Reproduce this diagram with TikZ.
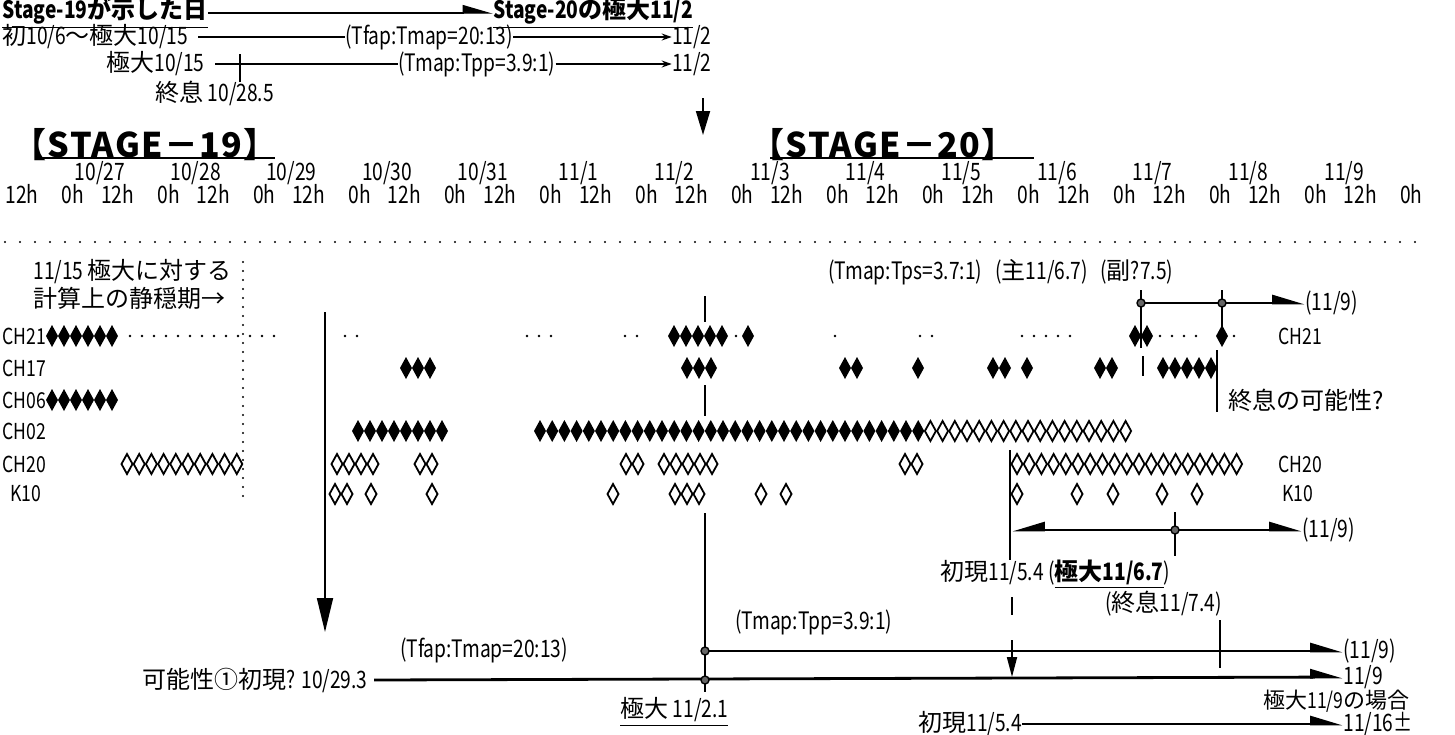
\documentclass[tikz,border=0pt]{standalone}
\usepackage{fontspec}
\setmainfont[FakeStretch=0.8]{Noto Sans CJK JP}
\newfontfamily\cjkfont{Noto Sans CJK JP}
\newfontfamily\stagefont[LetterSpace=4]{Noto Sans CJK JP}
\newcommand\jpn[1]{{\cjkfont #1}}
\usetikzlibrary{arrows.meta}

\begin{document}
\begin{tikzpicture}[x=0.5pt, y=-0.5pt,
    every node/.style={inner sep=0pt, font=\fontsize{12}{14}\selectfont},
    lab/.style={font=\fontsize{11}{13}\selectfont},
    stage/.style={anchor=west, font=\fontsize{17}{19}\selectfont\stagefont\bfseries},
    thinline/.style={line width=0.7pt},
    boldline/.style={line width=1.4pt},
    vline/.style={line width=0.9pt},
    harp/.style={-{Triangle[harpoon, length=14pt, width=8pt]}},
    headarrow/.style={-{Stealth[length=5pt, width=3.5pt]}},
    dotline/.style={line width=1.2pt, line cap=round, dash pattern=on 0pt off 7.5pt},
    dotrow/.style={line width=1.4pt, line cap=round, dash pattern=on 0pt off 6pt},
    knot/.style={fill=black!60, draw=black, line width=0.7pt},
    fulld/.pic={\fill (0,-11) -- (6,0) -- (0,11) -- (-6,0) -- cycle;},
    opend/.pic={\filldraw[fill=white, line width=0.9pt] (0,-10) -- (5.5,0) -- (0,10) -- (-5.5,0) -- cycle;},
    blip/.pic={\fill (0,0) circle[radius=0.7pt];}
  ]
  \useasboundingbox (0,0) rectangle (1455,734);

  % what Stage-19 gave
  \node[anchor=west] (s19) at (2,13) {\bfseries\underline{Stage-19\jpn{が示した日}}};
  \node[anchor=west] (s20) at (493,13) {\bfseries\underline{Stage-20\jpn{の極大}11/2}};
  \draw[thinline, harp] (s19.east) -- (s20.west);

  \node[anchor=west] (fa) at (2,37) {\jpn{初}10/6\jpn{〜極大}10/15};
  \node[anchor=west] (fr1) at (345,37) {(Tfap:Tmap=20:13)};
  \node[anchor=east] (fe1) at (712,37) {11/2};
  \draw[thinline] ([xshift=5pt]fa.east) -- (fr1.west);
  \draw[thinline, headarrow] (fr1.east) -- (fe1.west);

  \node[anchor=east] (ma) at (205,64) {\jpn{極大}10/15};
  \node[anchor=west] (mr1) at (398,64) {(Tmap:Tpp=3.9:1)};
  \node[anchor=east] (me1) at (712,64) {11/2};
  \draw[thinline] ([xshift=5pt]ma.east) -- (mr1.west);
  \draw[thinline, headarrow] (mr1.east) -- (me1.west);
  \coordinate (endt) at (240,54);
  \coordinate (endb) at (240,82);
  \draw[thinline] (endt) -- (endb);
  \node[anchor=west] (endlbl) at (155,93) {\jpn{終息} 10/28.5};

  % drop to 11/2
  \coordinate (d1a) at (703,98);
  \coordinate (d1b) at (703,135);
  \draw[vline, -{Triangle[length=12pt, width=7pt]}] (d1a) -- (d1b);

  % stage titles
  \node[stage] (st19) at (12,145) {【STAGE－19】};
  \draw[thinline] (35,158) -- (275,158);
  \node[stage] (st20) at (750,145) {【STAGE－20】};
  \draw[thinline] (770,158) -- (1034,158);

  % time axis
  \foreach \d [count=\i from 0] in {{10/27},{10/28},{10/29},{10/30},{10/31},{11/1},{11/2},{11/3},{11/4},{11/5},{11/6},{11/7},{11/8},{11/9}}
    \node (date\i) at ({100+95.7*\i},173) {\d};
  \foreach \k in {0,...,14} {
    \node (hA\k) at ({22+95.6*\k},194) {12h};
    \node (hB\k) at ({73+95.6*\k},194) {0h};
  }
  \coordinate (rl) at (5,242);
  \coordinate (rr) at (1420,242);
  \draw[dotline] (rl) -- (rr);

  % quiet period note
  \node[anchor=west] (calm1) at (33,272) {11/15 \jpn{極大に対する}};
  \node[anchor=west] (calm2) at (33,298) {\jpn{計算上の静穏期→}};
  \draw[line width=1.1pt, line cap=round, dash pattern=on 0pt off 4.5pt] (243,262) -- (243,505);

  % row labels
  \node[lab, anchor=west] (lch21) at (2,336) {CH21};
  \node[lab, anchor=west] (lch17) at (2,368) {CH17};
  \node[lab, anchor=west] (lch06) at (2,400) {CH06};
  \node[lab, anchor=west] (lch02) at (2,431) {CH02};
  \node[lab, anchor=west] (lch20) at (2,464) {CH20};
  \node[lab, anchor=west] (lk10) at (10,494) {K10};
  \node[lab, anchor=west] (rch21) at (1278,336) {CH21};
  \node[lab, anchor=west] (rch20) at (1278,464) {CH20};
  \node[lab, anchor=west] (rk10) at (1282,494) {K10};

  % CH21
  \foreach \x in {52,64,...,112} \pic at (\x,336) {fulld};
  \draw[dotrow] (130,336) -- (282,336);
  \draw[dotrow] (345,336) -- (369,336);
  \draw[dotrow] (527,336) -- (563,336);
  \draw[dotrow] (625,336) -- (637,336);
  \foreach \x in {674,686,698,710,722,748} \pic at (\x,336) {fulld};
  \pic at (736,336) {blip};
  \pic at (835,336) {blip};
  \draw[dotrow] (920,336) -- (932,336);
  \draw[dotrow] (1022,336) -- (1070,336);
  \foreach \x in {1135,1147,1222} \pic at (\x,336) {fulld};
  \draw[dotrow] (1160,336) -- (1208,336);
  \pic at (1234,336) {blip};

  % CH17
  \foreach \x in {406,418,430,687,699,711,845,857,918,993,1005,1027,1100,1112,1163,1175,1187,1199,1211}
    \pic at (\x,368) {fulld};
  \draw[vline] (1143,356) -- (1143,376);
  \draw[vline] (1217,350) -- (1217,412);
  \node[anchor=west] (endq) at (1228,400) {\jpn{終息の可能性?}};

  % CH06
  \foreach \x in {52,64,...,112} \pic at (\x,400) {fulld};

  % CH02
  \foreach \x in {358,370,...,442} \pic at (\x,431) {fulld};
  \foreach \i in {0,...,31} \pic at ({540+12.2*\i},431) {fulld};
  \foreach \i in {0,...,16} \pic at ({930.4+12.2*\i},431) {opend};

  % CH20
  \foreach \i in {0,...,9} \pic at ({127+12.2*\i},464) {opend};
  \foreach \x in {337,349,361,373,420,432,626,638,664,676,688,700,712,905,917}
    \pic at (\x,464) {opend};
  \foreach \i in {0,...,18} \pic at ({1017+12.2*\i},464) {opend};

  % K10
  \foreach \x in {335,347,371,432,613,675,687,699,761,786,1017,1077,1113,1162,1197}
    \pic at (\x,494) {opend};

  % 11/2 marker line
  \draw[vline] (705,296) -- (705,322);
  \draw[vline] (705,385) -- (705,416);
  \draw[vline] (705,513) -- (705,692);

  % first appearance drop
  \coordinate (q1) at (325,312);
  \coordinate (q2) at (325,632);
  \draw[vline, -{Triangle[length=17pt, width=8pt]}] (q1) -- (q2);

  % upper right: CH21 peaks
  \node[anchor=west] (tps) at (828,272) {(Tmap:Tps=3.7:1)};
  \node[anchor=west] (main) at (995,272) {(\jpn{主}11/6.7)};
  \node[anchor=west] (sub) at (1100,272) {(\jpn{副}?7.5)};
  \coordinate (pa) at (1141,303);
  \coordinate (pb) at (1222,303);
  \node[anchor=west] (end5) at (1305,303) {(11/9)};
  \draw[vline] (1141,290) -- (1141,348);
  \draw[vline] (1222,290) -- (1222,345);
  \draw[boldline, harp] (pa) -- (end5.west);
  \filldraw[knot] (pa) circle[radius=2pt];
  \filldraw[knot] (pb) circle[radius=2pt];

  % CH20 span 11/5.4 - 11/9
  \draw[vline] (1010,450) -- (1010,560);
  \coordinate (lb) at (1012,530);
  \coordinate (pc) at (1175,530);
  \node[anchor=west] (end4) at (1302,530) {(11/9)};
  \draw[boldline, {Triangle[harpoon, swap, length=14pt, width=8pt]}-{Triangle[harpoon, length=14pt, width=8pt]}] (lb) -- (end4.west);
  \draw[vline] (1175,512) -- (1175,556);
  \filldraw[knot] (pc) circle[radius=2pt];
  \node[anchor=west] (app) at (940,574) {\jpn{初現}11/5.4 (\textbf{\underline{\jpn{極大}11/6.7}})};
  \node[anchor=west] (fin) at (1105,604) {(\jpn{終息}11/7.4)};
  \draw[vline] (1012,597) -- (1012,615);
  \draw[vline] (1220,620) -- (1220,668);

  % lower lines
  \node[anchor=west] (tpp) at (735,622) {(Tmap:Tpp=3.9:1)};
  \node[anchor=west] (tfap) at (400,650) {(Tfap:Tmap=20:13)};
  \coordinate (pk2) at (705,651);
  \coordinate (pk) at (705,680);
  \node[anchor=west] (end2) at (1343,651) {(11/9)};
  \draw[boldline, harp] (pk2) -- (end2.west);
  \node[anchor=east] (pos1) at (368,680) {\jpn{可能性①初現}? 10/29.3};
  \node[anchor=west] (end1) at (1343,677) {11/9};
  \draw[boldline, harp] ([xshift=3pt]pos1.east) -- (end1.west);
  \filldraw[knot] (pk2) circle[radius=2pt];
  \filldraw[knot] (pk) circle[radius=2pt];
  \node[anchor=west] (peak) at (620,712) {\underline{\jpn{極大} 11/2.1}};

  % case of maximum 11/9
  \node[anchor=east, font=\fontsize{11}{13}\selectfont] (case) at (1410,701) {\jpn{極大}11/9\jpn{の場合}};
  \coordinate (d2a) at (1012,640);
  \coordinate (d2b) at (1012,677);
  \draw[vline, -{Triangle[length=10pt, width=5pt]}] (d2a) -- (d2b);
  \node[anchor=west] (app2) at (918,724) {\jpn{初現}11/5.4};
  \node[anchor=west] (end3) at (1343,724) {11/16±};
  \draw[boldline, harp] (app2.east) -- (end3.west);
\end{tikzpicture}
\end{document}
